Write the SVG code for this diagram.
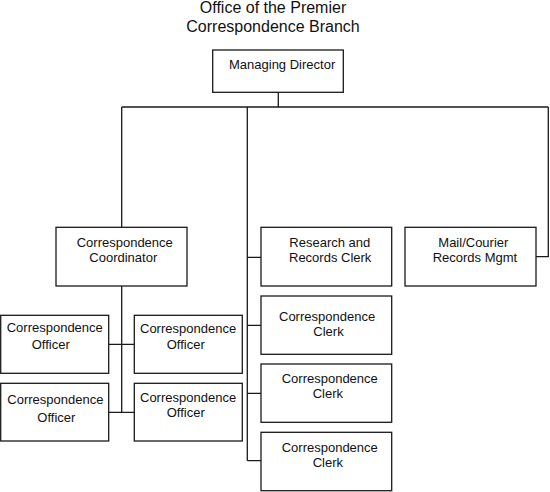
<svg xmlns="http://www.w3.org/2000/svg" width="550" height="492" viewBox="0 0 550 492">
<style>
.box{fill:#fff;stroke:#1a1a1a;stroke-width:1.3}
.ln{fill:none;stroke:#1a1a1a;stroke-width:1.3}
text{font-family:"Liberation Sans",Arial,sans-serif;font-size:13px;fill:#111}
.title{font-size:16px;text-anchor:middle}
</style>
<rect width="550" height="492" fill="#fff"/>
<g id="title">
<text class="title" x="273" y="13">Office of the Premier</text>
<text class="title" x="273" y="32">Correspondence Branch</text>
</g>
<g id="connectors">
<path class="ln" d="M278.3 92.3V107M121.7 107H548.3M121.7 107V227.3M247.3 107V460.7M548.3 107V256.7H536"/>
<path class="ln" d="M121.7 286V412.3M108.7 344.3H134.3M108.7 412.3H134.3"/>
<path class="ln" d="M247.3 257.3H261M247.3 325.3H261M247.3 393.3H261M247.3 460.7H261"/>
</g>
<g id="managing-director">
<rect class="box" x="212.7" y="50" width="130.6" height="42.3"/>
<text x="229" y="69">Managing Director</text>
</g>
<g id="coordinator">
<rect class="box" x="56" y="227.3" width="131" height="58.7"/>
<text x="76.7" y="246.7">Correspondence</text>
<text x="89.3" y="262">Coordinator</text>
</g>
<g id="officer-1">
<rect class="box" x="0.7" y="315.3" width="108" height="58"/>
<text x="6.7" y="332">Correspondence</text>
<text x="31.7" y="349">Officer</text>
</g>
<g id="officer-2">
<rect class="box" x="134.3" y="315.3" width="108" height="58"/>
<text x="140" y="333.3">Correspondence</text>
<text x="166.7" y="349.3">Officer</text>
</g>
<g id="officer-3">
<rect class="box" x="0.7" y="383.3" width="108" height="57.7"/>
<text x="7.3" y="404">Correspondence</text>
<text x="37.3" y="421.7">Officer</text>
</g>
<g id="officer-4">
<rect class="box" x="134.3" y="383.3" width="108" height="57.7"/>
<text x="140" y="401.7">Correspondence</text>
<text x="166.7" y="417.3">Officer</text>
</g>
<g id="research-clerk">
<rect class="box" x="261" y="227.3" width="130.7" height="58.7"/>
<text x="289.3" y="246.7">Research and</text>
<text x="289" y="262.3">Records Clerk</text>
</g>
<g id="mail-courier">
<rect class="box" x="405" y="227.3" width="131" height="58.7"/>
<text x="438.3" y="246.7">Mail/Courier</text>
<text x="432.7" y="262">Records Mgmt</text>
</g>
<g id="clerk-1">
<rect class="box" x="261" y="296" width="130.7" height="58.3"/>
<text x="279" y="320.7">Correspondence</text>
<text x="313.3" y="335.7">Clerk</text>
</g>
<g id="clerk-2">
<rect class="box" x="261" y="364" width="130.7" height="58.3"/>
<text x="281.7" y="383.3">Correspondence</text>
<text x="312.7" y="398.3">Clerk</text>
</g>
<g id="clerk-3">
<rect class="box" x="261" y="432.3" width="130.7" height="58.4"/>
<text x="281.7" y="451.7">Correspondence</text>
<text x="312.7" y="466.7">Clerk</text>
</g>
</svg>
